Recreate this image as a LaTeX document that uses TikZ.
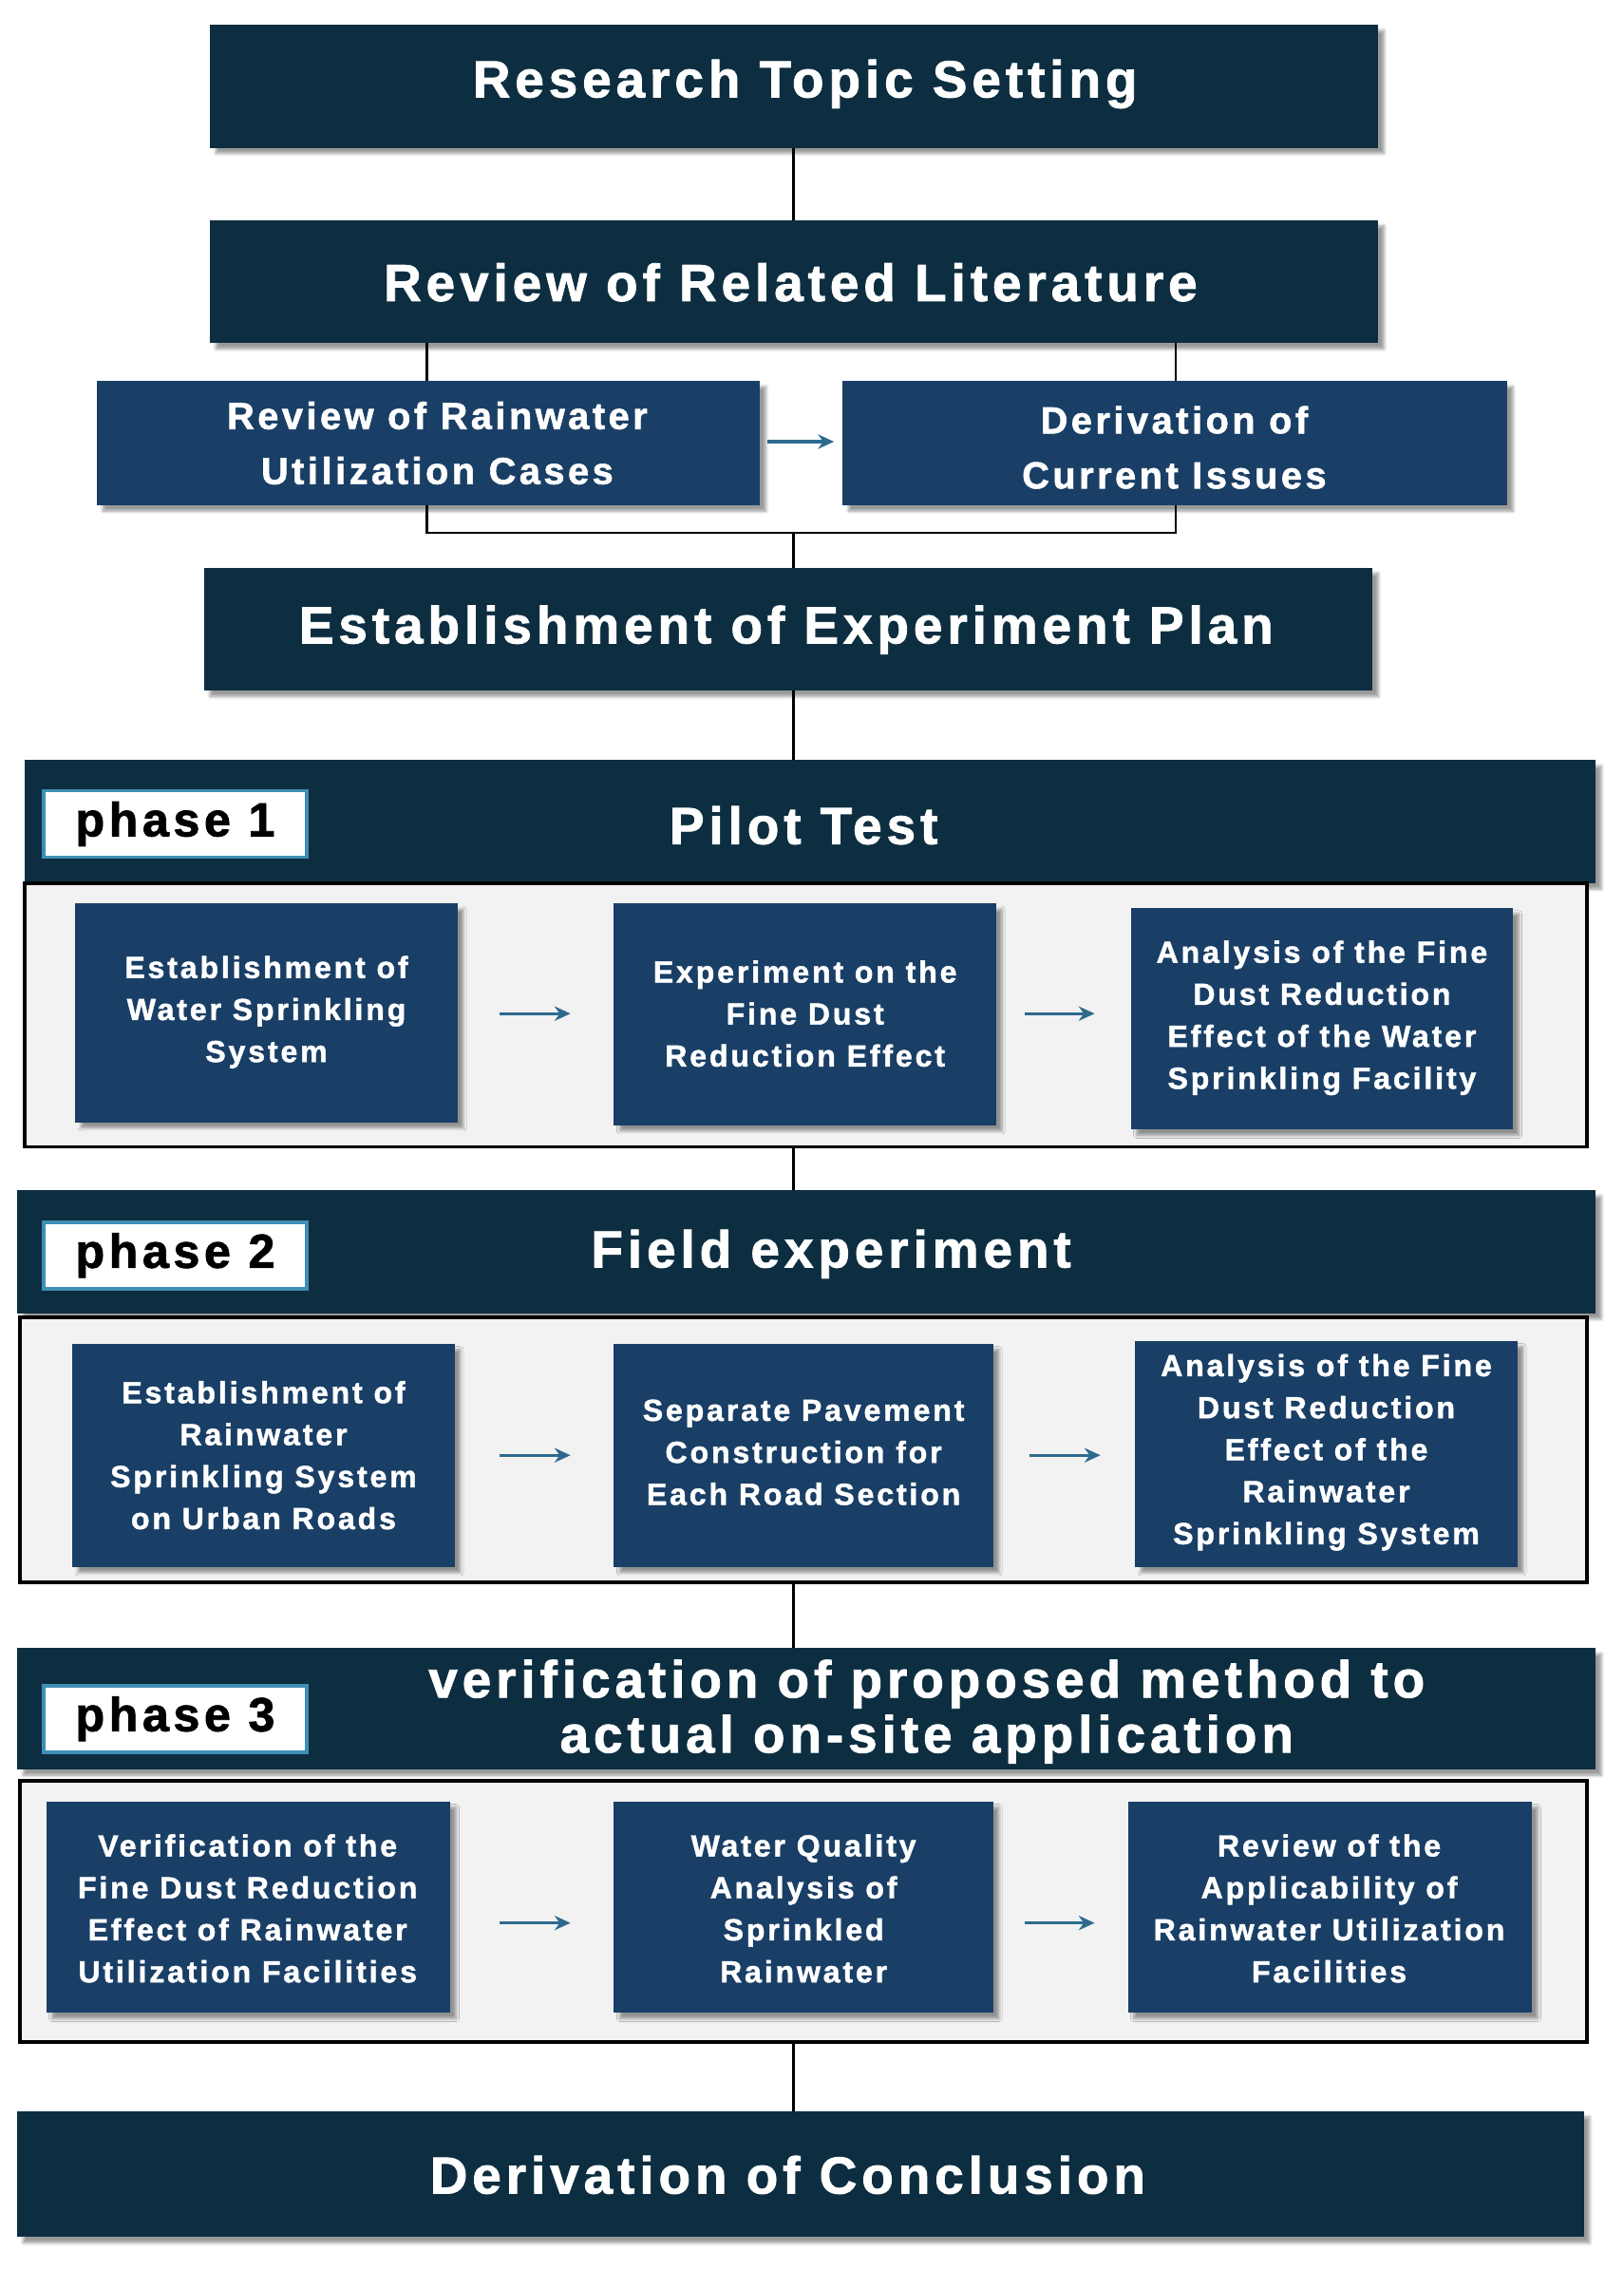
\documentclass[tikz,border=0pt]{standalone}
\usepackage{fontspec}
\setmainfont{Liberation Sans}[LetterSpace=9,FakeBold=1.5]
\usetikzlibrary{shadows.blur,arrows.meta}
\definecolor{dk}{HTML}{0D2E40}
\definecolor{bl}{HTML}{1A3F66}
\definecolor{ar}{HTML}{2E6A8E}
\definecolor{pb}{HTML}{3E8FB5}
\begin{document}
\begin{tikzpicture}[x=1pt,y=-1pt,
 hdr/.style={fill=dk,blur shadow={shadow xshift=4pt,shadow yshift=-4pt,shadow blur steps=5}},
 ibox/.style={fill=bl,blur shadow={shadow xshift=4pt,shadow yshift=-4pt,shadow blur steps=5}},
 panel/.style={fill=black!5,draw=black,line width=2.5pt},
 tt/.style={text=white,font=\bfseries\fontsize{36}{40}\selectfont,align=center},
 it/.style={text=white,font=\bfseries\fontsize{21}{29}\selectfont,align=center},
 ph/.style={fill=white,draw=pb,line width=2.5pt,font=\bfseries\fontsize{33}{36}\selectfont,text=black},
 ln/.style={line width=1.8pt,black},
 arr/.style={-{Stealth[length=11pt,width=10pt]},ar,line width=2.2pt}]
\useasboundingbox (0,0) rectangle (1121,1567);
% top
\fill[hdr] (145,17) rectangle (952,102); \node[tt] (t1) at (556,58) {Research Topic Setting};
\fill[hdr] (145,152) rectangle (952,237); \node[tt] (t2) at (546,195) {Review of Related Literature};
\fill[ibox] (67,263) rectangle (525,349); \node[it,font=\bfseries\fontsize{26}{38}\selectfont] (a) at (302,306) {Review of Rainwater\\Utilization Cases};
\fill[ibox] (582,263) rectangle (1041,349); \node[it,font=\bfseries\fontsize{26}{38}\selectfont] (b) at (811,309) {Derivation of\\Current Issues};
\fill[hdr] (141,392) rectangle (948,477); \node[tt] (t3) at (543,435) {Establishment of Experiment Plan};
\coordinate (aT) at (295,237); \coordinate (aT2) at (295,263);
\coordinate (bT) at (812,237); \coordinate (bT2) at (812,263);
\draw[ln] (548,102) -- (548,152);
\draw[ln] (aT) -- (aT2); \draw[ln] (bT) -- (bT2);
\draw[ln] (295,349) -- (295,368) -- (812,368) -- (812,349);
\draw[ln] (548,368) -- (548,392);
\draw[arr] (530,305) -- (576,305);
\draw[ln] (548,477) -- (548,525);
% phase 1
\fill[hdr] (17,525) rectangle (1102,610);
\node[ph,minimum width=182pt,minimum height=46pt] (p1) at (121,569) {phase 1};
\node[tt] (h1) at (555,570) {Pilot Test};
\draw[panel] (17,610) rectangle (1096,792);
\fill[ibox] (52,624) rectangle (316,775); \node[it] (b11) at (184,699) {Establishment of\\Water Sprinkling\\System};
\fill[ibox] (424,624) rectangle (688,777); \node[it] (b12) at (556,700) {Experiment on the\\Fine Dust\\Reduction Effect};
\fill[ibox] (781,627) rectangle (1045,780); \node[it] (b13) at (913,703) {Analysis of the Fine\\Dust Reduction\\Effect of the Water\\Sprinkling Facility};
\draw[arr] (345,700) -- (394,700); \draw[arr] (708,700) -- (756,700);
\draw[ln] (548,792) -- (548,822);
% phase 2
\fill[hdr] (12,822) rectangle (1102,907);
\node[ph,minimum width=182pt,minimum height=46pt] (p2) at (121,867) {phase 2};
\node[tt] (h2) at (574,866) {Field experiment};
\draw[panel] (14,910) rectangle (1096,1093);
\fill[ibox] (50,928) rectangle (314,1082); \node[it] (b21) at (182,1005) {Establishment of\\Rainwater\\Sprinkling System\\on Urban Roads};
\fill[ibox] (424,928) rectangle (686,1082); \node[it] (b22) at (555,1003) {Separate Pavement\\Construction for\\Each Road Section};
\fill[ibox] (784,926) rectangle (1048,1082); \node[it] (b23) at (916,1003) {Analysis of the Fine\\Dust Reduction\\Effect of the\\Rainwater\\Sprinkling System};
\draw[arr] (345,1005) -- (394,1005); \draw[arr] (711,1005) -- (760,1005);
\draw[ln] (548,1093) -- (548,1138);
% phase 3
\fill[hdr] (12,1138) rectangle (1102,1222);
\node[ph,minimum width=182pt,minimum height=46pt] (p3) at (121,1187) {phase 3};
\node[tt,font=\bfseries\fontsize{36}{38}\selectfont] (h3) at (640,1182) {verification of proposed method to\\actual on-site application};
\draw[panel] (14,1230) rectangle (1096,1410);
\fill[ibox] (32,1244) rectangle (311,1390); \node[it] (b31) at (171,1318) {Verification of the\\Fine Dust Reduction\\Effect of Rainwater\\Utilization Facilities};
\fill[ibox] (424,1244) rectangle (686,1390); \node[it] (b32) at (555,1318) {Water Quality\\Analysis of\\Sprinkled\\Rainwater};
\fill[ibox] (779,1244) rectangle (1058,1390); \node[it] (b33) at (918,1318) {Review of the\\Applicability of\\Rainwater Utilization\\Facilities};
\draw[arr] (345,1328) -- (394,1328); \draw[arr] (708,1328) -- (756,1328);
\draw[ln] (548,1410) -- (548,1458);
% final
\fill[hdr] (12,1458) rectangle (1094,1545); \node[tt] (t4) at (544,1502) {Derivation of Conclusion};
\end{tikzpicture}
\end{document}
